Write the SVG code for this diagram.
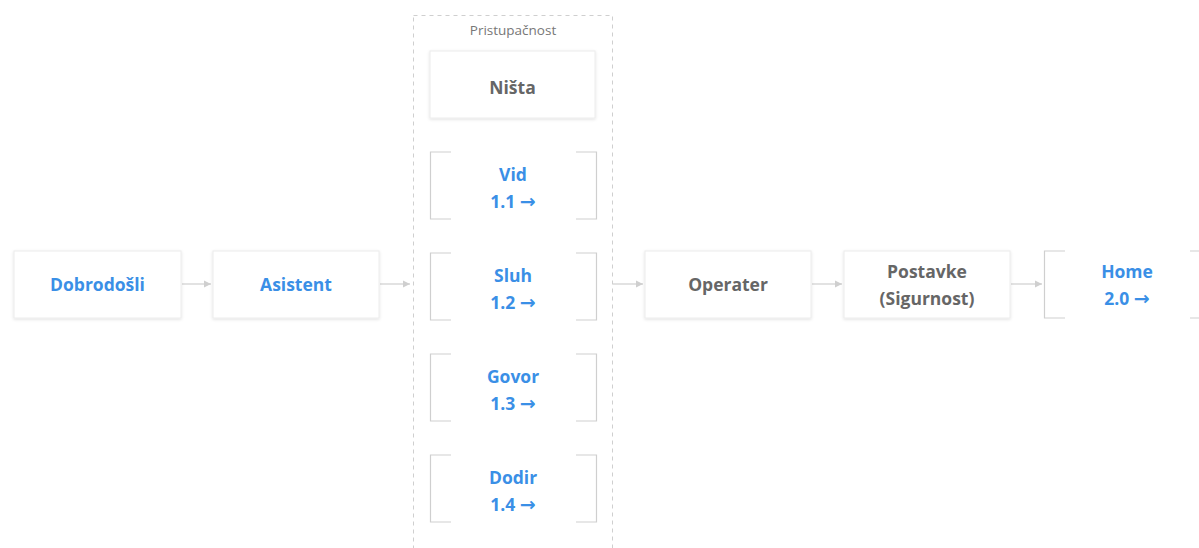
<svg xmlns="http://www.w3.org/2000/svg" width="1199" height="548" viewBox="0 0 1199 548">
<defs>
<style>
.box{fill:#fff;stroke:#ececec;stroke-width:1;filter:url(#sh)}
.br{fill:none;stroke:#cfcfcf;stroke-width:1.2}
.t{font-family:"Open Sans","Liberation Sans",sans-serif;font-weight:700;font-size:17.5px;text-anchor:middle}
.b{fill:#3a8fe6}
.g{fill:#666}
.ar{font-family:"DejaVu Sans",sans-serif;font-weight:700;font-size:19px}
.lbl{font-family:"Open Sans","Liberation Sans",sans-serif;font-size:13.5px;fill:#777;text-anchor:middle}
.c{stroke:#cfcfcf;stroke-width:1.2;fill:none;marker-end:url(#ah)}
</style>
<filter id="sh" x="-10%" y="-20%" width="120%" height="150%">
<feDropShadow dx="0" dy="1" stdDeviation="1.5" flood-color="#000" flood-opacity="0.12"/>
</filter>
<marker id="ah" markerWidth="8" markerHeight="8" refX="7" refY="4" orient="auto" markerUnits="userSpaceOnUse">
<path d="M0,0.5 L7,4 L0,7.5 Z" fill="#cfcfcf"/>
</marker>
</defs>
<rect width="1199" height="548" fill="#fff"/>

<g id="connectors">
<line class="c" x1="182" y1="284" x2="211" y2="284"/>
<line class="c" x1="380" y1="284" x2="410" y2="284"/>
<line class="c" x1="613" y1="284" x2="643" y2="284"/>
<line class="c" x1="812" y1="284" x2="842" y2="284"/>
<line class="c" x1="1011" y1="284" x2="1042" y2="284"/>
</g>

<g id="pristupacnost">
<rect x="413.5" y="15.5" width="199" height="540" fill="none" stroke="#cfcfcf" stroke-width="1" stroke-dasharray="4,4"/>
<text class="lbl" x="513" y="35">Pristupačnost</text>
</g>

<g id="dobrodosli">
<rect class="box" x="14" y="251" width="167" height="67"/>
<text class="t b" x="97.5" y="291">Dobrodošli</text>
</g>
<g id="asistent">
<rect class="box" x="213" y="251" width="166" height="67"/>
<text class="t b" x="296" y="291">Asistent</text>
</g>
<g id="nista">
<rect class="box" x="430" y="51" width="165" height="67"/>
<text class="t g" x="512.5" y="94">Ništa</text>
</g>

<g id="vid">
<path class="br" d="M451,152 H430.5 V219 H451 M576,152 H596.5 V219 H576"/>
<text class="t b" x="513" y="181">Vid</text>
<text class="t b" x="513" y="208">1.1 <tspan class="ar">→</tspan></text>
</g>
<g id="sluh">
<path class="br" d="M451,253 H430.5 V320 H451 M576,253 H596.5 V320 H576"/>
<text class="t b" x="513" y="282">Sluh</text>
<text class="t b" x="513" y="309">1.2 <tspan class="ar">→</tspan></text>
</g>
<g id="govor">
<path class="br" d="M451,354 H430.5 V421 H451 M576,354 H596.5 V421 H576"/>
<text class="t b" x="513" y="383">Govor</text>
<text class="t b" x="513" y="410">1.3 <tspan class="ar">→</tspan></text>
</g>
<g id="dodir">
<path class="br" d="M451,455 H430.5 V522 H451 M576,455 H596.5 V522 H576"/>
<text class="t b" x="513" y="484">Dodir</text>
<text class="t b" x="513" y="511">1.4 <tspan class="ar">→</tspan></text>
</g>

<g id="operater">
<rect class="box" x="645" y="251" width="166" height="67"/>
<text class="t g" x="728" y="291">Operater</text>
</g>
<g id="postavke">
<rect class="box" x="844" y="251" width="166" height="67"/>
<text class="t g" x="927" y="278">Postavke</text>
<text class="t g" x="927" y="305">(Sigurnost)</text>
</g>
<g id="home">
<path class="br" d="M1065,251 H1044.5 V318 H1065 M1190,251 H1210.5 V318 H1190"/>
<text class="t b" x="1127" y="278">Home</text>
<text class="t b" x="1127" y="305">2.0 <tspan class="ar">→</tspan></text>
</g>
</svg>
